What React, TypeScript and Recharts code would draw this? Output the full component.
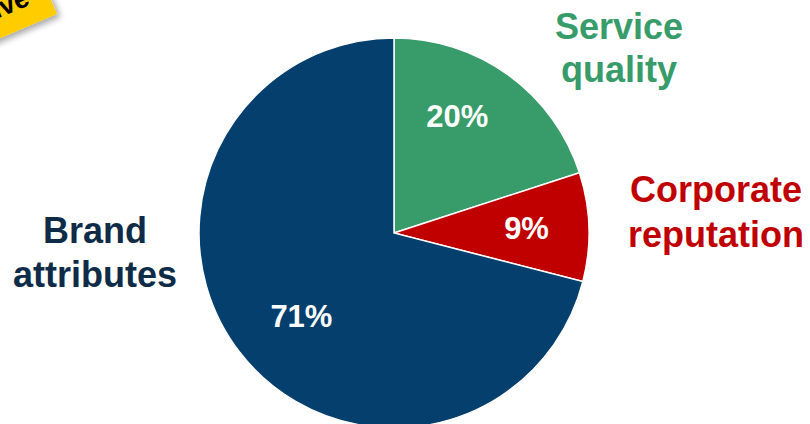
import React from "react";
import { PieChart, Pie, Cell } from "recharts";

if (typeof document !== "undefined") {
  document.body.style.margin = "0";
}

// ---- data ----
const categories = ["Service quality", "Corporate reputation", "Brand attributes"];
const shares = [20, 9, 71];
const pctLabels = ["20%", "9%", "71%"];
const nameLines = [["Service", "quality"], ["Corporate", "reputation"], ["Brand", "attributes"]];

// ---- styles / layout ----
const COLORS = ["#379B6A", "#C00000", "#043F6E"];
const NAME_COLORS = ["#379B6A", "#C00000", "#0E2C48"];
const FONT = "'Liberation Sans', Arial, Helvetica, sans-serif";
const W = 810;
const H = 424;
const CX = 394;
const CY = 233;
const R = 195;
// per-slice label placement tweaks: [angle shift (deg), radius factor]
const LABEL_TWEAK: [number, number][] = [
  [7.5, 0.68],
  [0, 0.68],
  [4.3, 0.64],
];
// outside category label anchors (center x, first baseline, line gap)
const NAME_POS: [number, number, number][] = [
  [619, 39, 43],
  [716, 202, 45],
  [95, 243, 44],
];

const data = categories.map((name, i) => ({ name, value: shares[i], pct: pctLabels[i] }));

const RAD = Math.PI / 180;

const renderPct = (props: any) => {
  const { cx, cy, midAngle, outerRadius, index } = props;
  const [da, rf] = LABEL_TWEAK[index];
  const a = (midAngle + da) * RAD;
  const r = outerRadius * rf;
  const x = cx + r * Math.cos(a);
  const y = cy - r * Math.sin(a);
  return (
    <text
      x={x}
      y={y}
      fill="#ffffff"
      textAnchor="middle"
      dominantBaseline="central"
      fontFamily={FONT}
      fontWeight="bold"
      fontSize={31}
    >
      {data[index].pct}
    </text>
  );
};

export default function App() {
  return (
    <div style={{ position: "relative", width: W, height: H, background: "#fff", overflow: "hidden" }}>
      <PieChart width={W} height={H} margin={{ top: 0, right: 0, bottom: 0, left: 0 }}>
        <Pie
          data={data}
          dataKey="value"
          nameKey="name"
          cx={CX}
          cy={CY}
          outerRadius={R}
          innerRadius={0}
          startAngle={90}
          endAngle={-270}
          stroke="#ffffff"
          strokeWidth={1.5}
          label={renderPct}
          labelLine={false}
          isAnimationActive={false}
        >
          {data.map((d, i) => (
            <Cell key={d.name} fill={COLORS[i]} />
          ))}
        </Pie>
      </PieChart>
      <svg
        width={W}
        height={H}
        style={{ position: "absolute", left: 0, top: 0, pointerEvents: "none" }}
      >
        <defs>
          <filter id="shadow" x="-20%" y="-50%" width="140%" height="200%">
            <feDropShadow dx="2" dy="4" stdDeviation="3" floodColor="#000" floodOpacity="0.35" />
          </filter>
        </defs>
        <g transform="rotate(-23 57 14)">
          <rect x={57 - 220} y={14 - 46} width={220} height={46} fill="#FFCC00" filter="url(#shadow)" />
          <text
            x={57 - 20}
            y={14 - 19}
            textAnchor="end"
            fontFamily={FONT}
            fontWeight="bold"
            fontSize={27}
            fill="#000"
          >
            Illustrative
          </text>
        </g>
        {nameLines.map((lines, i) => (
          <text
            key={categories[i]}
            textAnchor="middle"
            fontFamily={FONT}
            fontWeight="bold"
            fontSize={36}
            fill={NAME_COLORS[i]}
          >
            {lines.map((ln, j) => (
              <tspan key={ln} x={NAME_POS[i][0]} y={NAME_POS[i][1] + j * NAME_POS[i][2]}>
                {ln}
              </tspan>
            ))}
          </text>
        ))}
      </svg>
    </div>
  );
}
